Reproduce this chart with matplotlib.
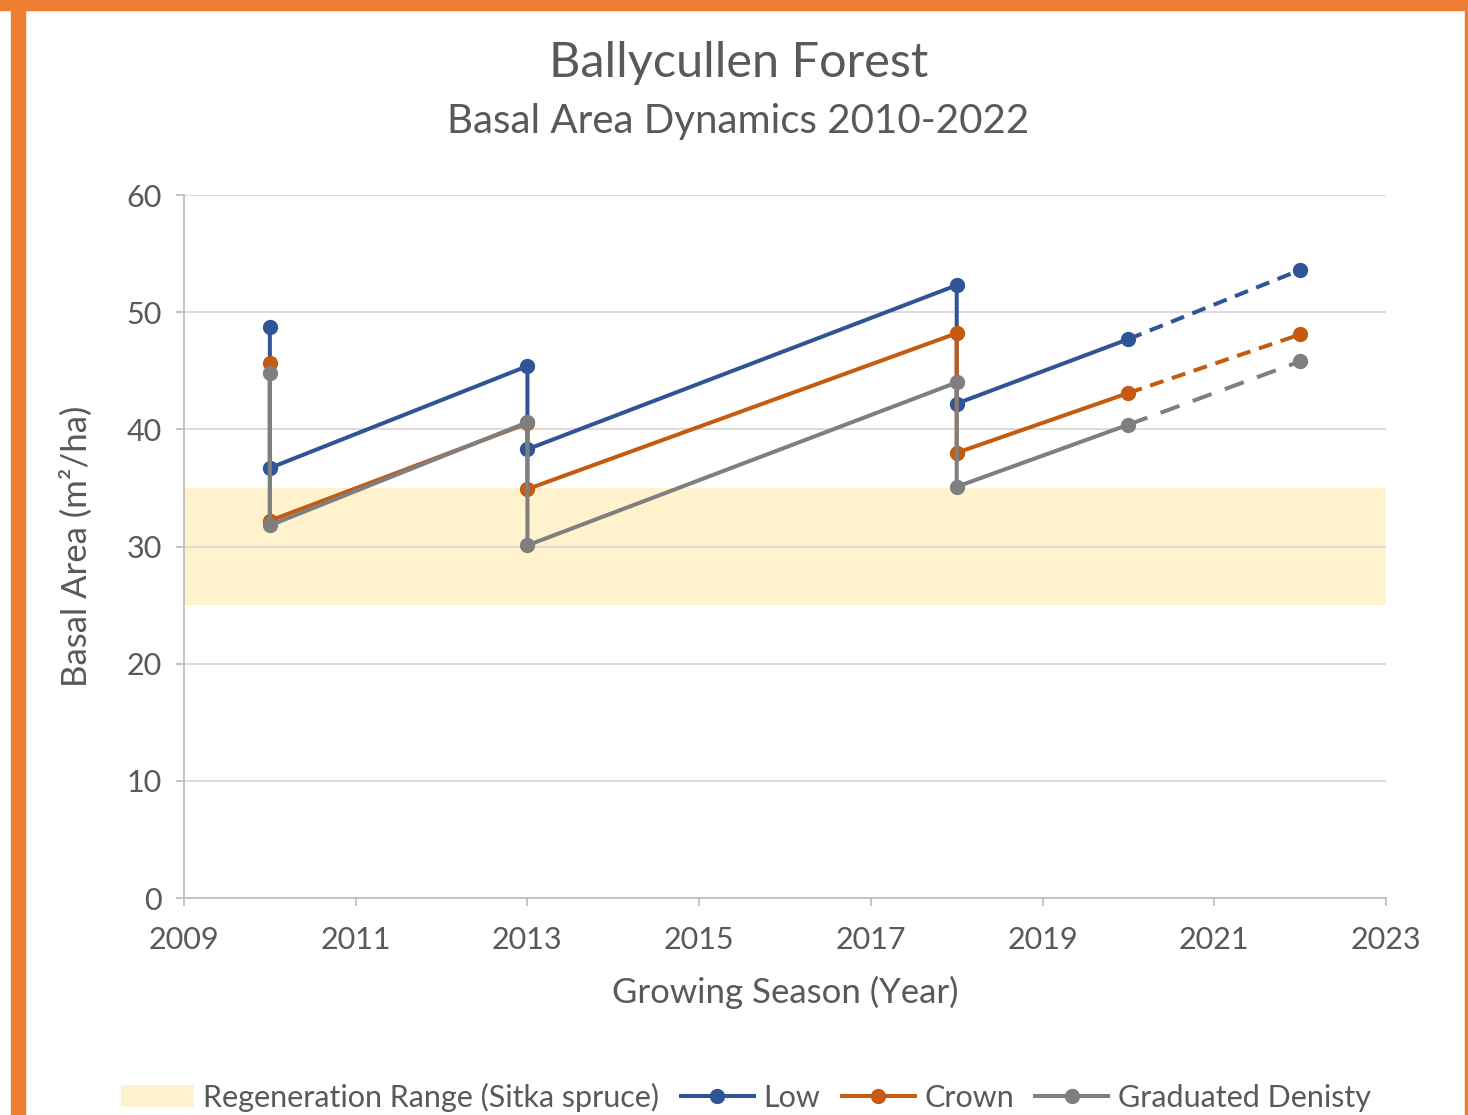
import numpy as np
import matplotlib.pyplot as plt
from matplotlib.patches import Rectangle, Patch
from matplotlib.lines import Line2D

plt.rcParams['font.family'] = ['Lato', 'DejaVu Sans']

# measured years and basal area (m2/ha), before/after each thinning
years = [2010, 2010, 2013, 2013, 2018, 2018, 2020]
low = [48.7, 36.7, 45.4, 38.3, 52.3, 42.2, 47.7]
crown = [45.7, 32.2, 40.5, 34.9, 48.2, 38.0, 43.1]
grad = [44.8, 31.8, 40.6, 30.1, 44.0, 35.1, 40.4]

# projection
proj_years = [2020, 2022]
low_proj = [47.7, 53.6]
crown_proj = [43.1, 48.1]
grad_proj = [40.4, 45.8]

regen_range = [25, 35]

txt = '#595959'
c_low = '#2F5597'
c_crown = '#C55A11'
c_grad = '#7F7F7F'

fig = plt.figure(figsize=(14.68, 11.15), dpi=100)
ax = fig.add_axes([184/1468, 1-898/1115, (1386-184)/1468, (898-195)/1115])

ax.axhspan(regen_range[0], regen_range[1], color='#FFF2CC', zorder=0, lw=0)

for xs, ys, ps, c, dash in [(years, low, low_proj, c_low, (0, (3.5, 2.2))),
                            (years, crown, crown_proj, c_crown, (0, (3.5, 2.2))),
                            (years, grad, grad_proj, c_grad, (0, (5, 3.5)))]:
    ax.plot(xs, ys, color=c, lw=2.9, marker='o', ms=10, zorder=3)
    ax.plot(proj_years, ps, color=c, lw=2.9, ls=dash, marker='o', ms=10,
            markevery=[1], zorder=3)

ax.set_xlim(2009, 2023)
ax.set_ylim(0, 60)
ax.set_xticks(range(2009, 2024, 2))
ax.set_yticks(range(0, 61, 10))
ax.grid(axis='y', color='#D9D9D9', lw=1.3, zorder=1)
for s in ['top', 'right']:
    ax.spines[s].set_visible(False)
for s in ['left', 'bottom']:
    ax.spines[s].set_color('#BFBFBF')
    ax.spines[s].set_linewidth(1.3)
ax.tick_params(colors=txt, labelsize=22, length=6, width=1.3, color='#BFBFBF')
ax.tick_params(axis='x', pad=14)
ax.tick_params(axis='y', pad=10)
ax.set_xlabel('Growing Season (Year)', fontsize=25, color=txt, labelpad=16)
ax.set_ylabel('Basal Area (m²/ha)', fontsize=25, color=txt, labelpad=24)

fig.text(0.503, 1-63/1115, 'Ballycullen Forest', ha='center', va='center', fontsize=35, color=txt)
fig.text(0.503, 1-122/1115, 'Basal Area Dynamics 2010-2022', ha='center', va='center', fontsize=29, color=txt)

handles = [Patch(color='#FFF2CC', lw=0),
           Line2D([], [], color=c_low, lw=2.9, marker='o', ms=10),
           Line2D([], [], color=c_crown, lw=2.9, marker='o', ms=10),
           Line2D([], [], color=c_grad, lw=2.9, marker='o', ms=10)]
labels = ['Regeneration Range (Sitka spruce)', 'Low', 'Crown', 'Graduated Denisty']
leg = fig.legend(handles, labels, loc='center', bbox_to_anchor=(0.508, 1-1097/1115), ncol=4,
                 frameon=False, fontsize=22, handlelength=2.4, handletextpad=0.3,
                 columnspacing=0.7)
for t in leg.get_texts():
    t.set_color(txt)

# orange frame
fig.patches.append(Rectangle((0, 1-10/1115), 1, 10/1115, transform=fig.transFigure,
                             color='#ED7D31', zorder=10))
fig.patches.append(Rectangle((11/1468, 0), 14/1468, 1, transform=fig.transFigure,
                             color='#ED7D31', zorder=10))
fig.patches.append(Rectangle((1465/1468, 0), 3/1468, 1, transform=fig.transFigure,
                             color='#ED7D31', zorder=10))

fig.savefig('out.png', dpi=100)
